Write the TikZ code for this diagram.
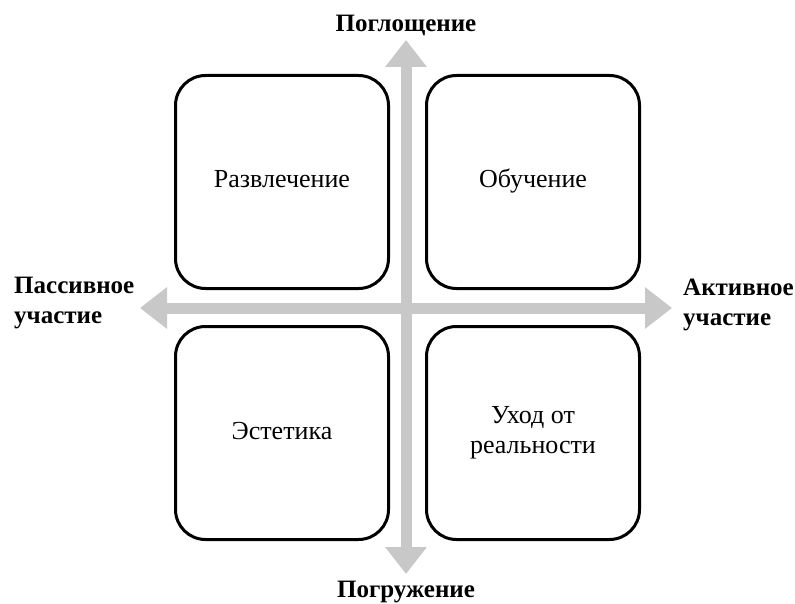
\documentclass[tikz,border=0pt]{standalone}
\usepackage{fontspec}
\setmainfont{Liberation Serif}
\usetikzlibrary{arrows.meta}

\definecolor{axisgray}{RGB}{200,200,200}

\begin{document}
\begin{tikzpicture}[x=1pt,y=-1pt,
    realm/.style={draw,line width=3pt,rounded corners=30pt,
      minimum width=213pt,minimum height=213pt,align=center,
      text height=19pt,text depth=7pt,
      font=\fontsize{26}{30}\selectfont},
    axislabel/.style={inner sep=0pt,align=left,
      font=\fontsize{25}{30}\selectfont\bfseries},
    axis/.style={axisgray,line width=11pt,
      {Triangle[width=40pt,length=27pt]}-{Triangle[width=40pt,length=27pt]}}]
  \useasboundingbox[fill=white] (0,0) rectangle (795,604);

  % axes
  \coordinate (up) at (406,40);
  \coordinate (down) at (406,574);
  \coordinate (left) at (140,308);
  \coordinate (right) at (672,308);
  \draw[axis] (down) -- (up);
  \draw[axis] (left) -- (right);

  % the four realms
  \node[realm] (ent) at (282,182) {Развлечение};
  \node[realm] (edu) at (533,182) {Обучение};
  \node[realm] (est) at (282,433) {Эстетика};
  \node[realm,text height=,text depth=] (esc) at (533,433) {Уход от\\реальности};

  % axis labels
  \node[axislabel,anchor=base] (absorb) at (406,32) {Поглощение};
  \node[axislabel,anchor=base] (immerse) at (406,597) {Погружение};
  \node[axislabel,anchor=west] (passive) at (14,303) {Пассивное\\участие};
  \node[axislabel,anchor=west] (active) at (683,305) {Активное\\участие};
\end{tikzpicture}
\end{document}
